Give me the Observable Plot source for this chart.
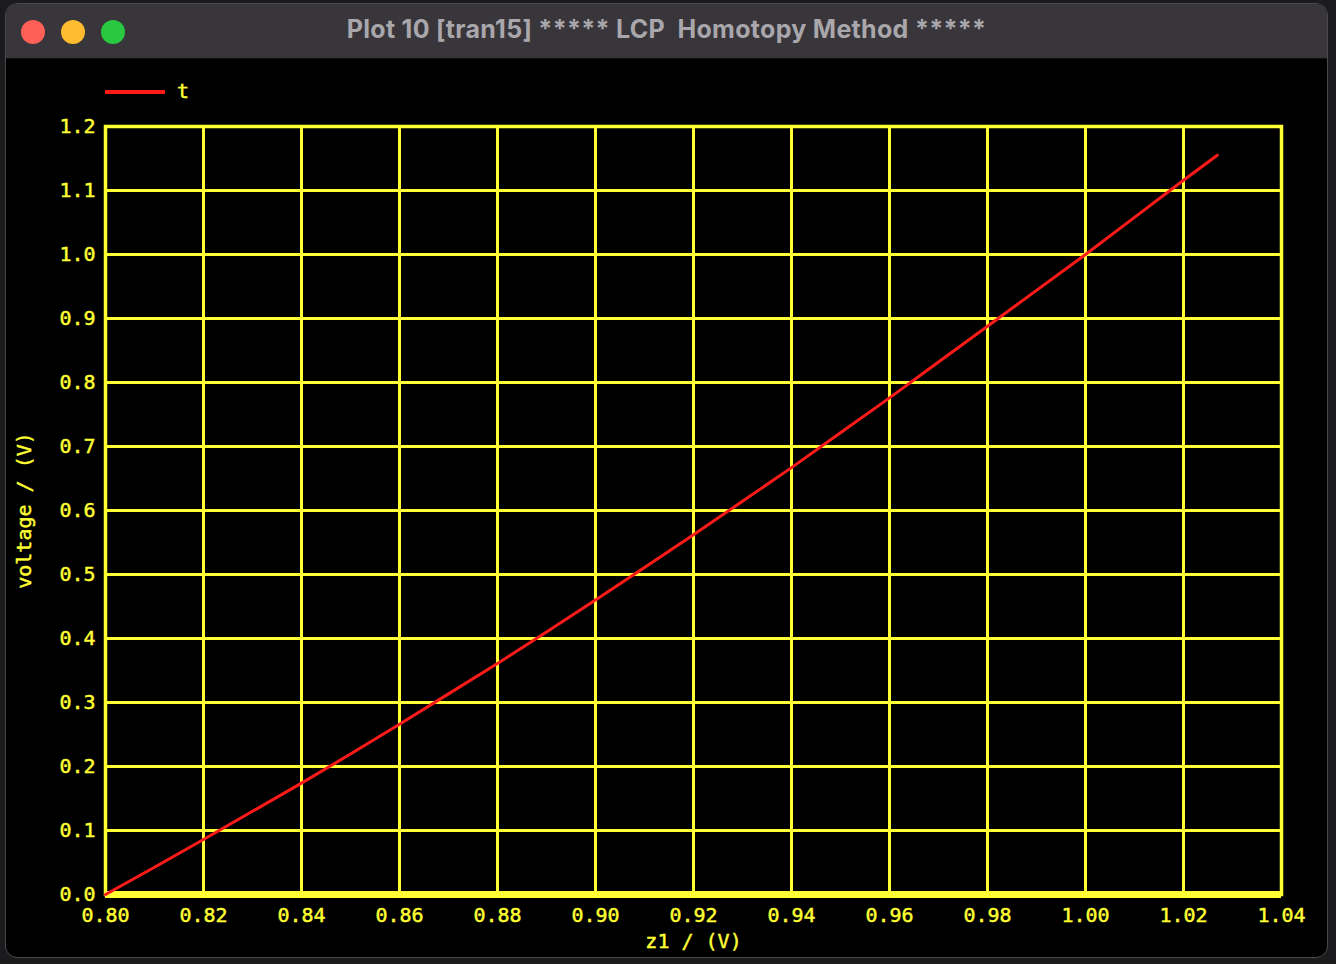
<!DOCTYPE html>
<html>
<head>
<meta charset="utf-8">
<script src="https://cdn.jsdelivr.net/npm/d3@7"></script>
<script src="https://cdn.jsdelivr.net/npm/@observablehq/plot@0.6"></script>
<style>
  html, body { margin: 0; padding: 0; background: #1b1b1d; width: 1336px; height: 964px; overflow: hidden; }
  #win { position: absolute; left: 5px; top: 3px; width: 1323px; height: 955px; background: #000; border-radius: 12px; border: 1px solid #4a4a4d; box-sizing: border-box; overflow: hidden; }
  #titlebar { position: absolute; left: 0; top: 0; width: 100%; height: 54px; background: #38363b; border-bottom: 1px solid #111; }
  .light { position: absolute; top: 16px; width: 24px; height: 24px; border-radius: 50%; }
  #title { position: absolute; left: 0; top: -2px; width: 100%; height: 54px; line-height: 54px; text-align: center; color: #a9a7ab; font-family: Inter, "Noto Sans", sans-serif; font-weight: 700; font-size: 25px; white-space: pre; letter-spacing: 0.3px; }
  #chart { position: absolute; left: 0; top: 57px; }
  #chart svg text { stroke: #ffff33; stroke-width: 0.45px; }
  #legend { position: absolute; left: 105px; top: 78px; height: 28px; font-family: "DejaVu Sans Mono", monospace; font-size: 20px; color: #ffff33; -webkit-text-stroke: 0.45px #ffff33; }
  #legend .swatch { position: absolute; left: 0; top: 12px; width: 60px; height: 4px; background: #ff1a1a; }
  #legend .lab { position: absolute; left: 72px; top: 0px; line-height: 26px; }
</style>
</head>
<body>
<div id="win">
  <div id="titlebar">
    <div class="light" style="left:15px;background:#fe5f57"></div>
    <div class="light" style="left:55px;background:#febc2e"></div>
    <div class="light" style="left:95px;background:#28c840"></div>
    <div id="title">Plot 10 [tran15] ***** LCP  Homotopy Method *****</div>
  </div>
</div>
<div id="chart"></div>
<div id="legend"><div class="swatch"></div><div class="lab">t</div></div>
<script>
// Data
const seriesName = "t";
const xValues = [0.800, 0.810, 0.820, 0.830, 0.840, 0.850, 0.860, 0.870, 0.880, 0.890, 0.900, 0.910, 0.920, 0.930, 0.940, 0.950, 0.960, 0.970, 0.980, 0.990, 1.000, 1.010, 1.020, 1.0269];
const yValues = [0.000, 0.0425, 0.086, 0.130, 0.174, 0.2195, 0.266, 0.3135, 0.361, 0.410, 0.460, 0.511, 0.562, 0.6145, 0.667, 0.7215, 0.776, 0.832, 0.888, 0.944, 1.000, 1.058, 1.116, 1.155];
const xTicks = [0.80, 0.82, 0.84, 0.86, 0.88, 0.90, 0.92, 0.94, 0.96, 0.98, 1.00, 1.02, 1.04];
const yTicks = [0.0, 0.1, 0.2, 0.3, 0.4, 0.5, 0.6, 0.7, 0.8, 0.9, 1.0, 1.1, 1.2];
const xLabel = "z1 / (V)";
const yLabel = "voltage / (V)";

const data = xValues.map((x, i) => ({x, y: yValues[i]}));
const yellow = "#ffff33";
const red = "#ff1a1a";

const chart = Plot.plot({
  width: 1336,
  height: 901,
  marginTop: 69,
  marginBottom: 64,
  marginLeft: 105,
  marginRight: 55,
  style: { background: "transparent", color: yellow, fontFamily: "'DejaVu Sans Mono', monospace", fontSize: "20px" },
  x: { domain: [0.80, 1.04] },
  y: { domain: [0, 1.2] },
  marks: [
    Plot.gridX(xTicks, { stroke: yellow, strokeOpacity: 1, strokeWidth: 3 }),
    Plot.gridY(yTicks, { stroke: yellow, strokeOpacity: 1, strokeWidth: 3 }),
    Plot.frame({ stroke: yellow, strokeWidth: 3.5 }),
    Plot.ruleY([0], { stroke: yellow, strokeWidth: 7 }),
    Plot.line(data, { x: "x", y: "y", stroke: red, strokeWidth: 3 }),
    Plot.axisX(xTicks, { tickFormat: d3.format(".2f"), tickSize: 0, tickPadding: 13, fill: yellow, fontSize: 20, label: xLabel, labelAnchor: "center", labelArrow: "none", labelOffset: 53 }),
    Plot.axisY(yTicks, { tickFormat: d3.format(".1f"), tickSize: 0, tickPadding: 10, fill: yellow, fontSize: 20, label: yLabel, labelAnchor: "center", labelArrow: "none", labelOffset: 89 })
  ]
});
document.getElementById("chart").appendChild(chart);
</script>
</body>
</html>
